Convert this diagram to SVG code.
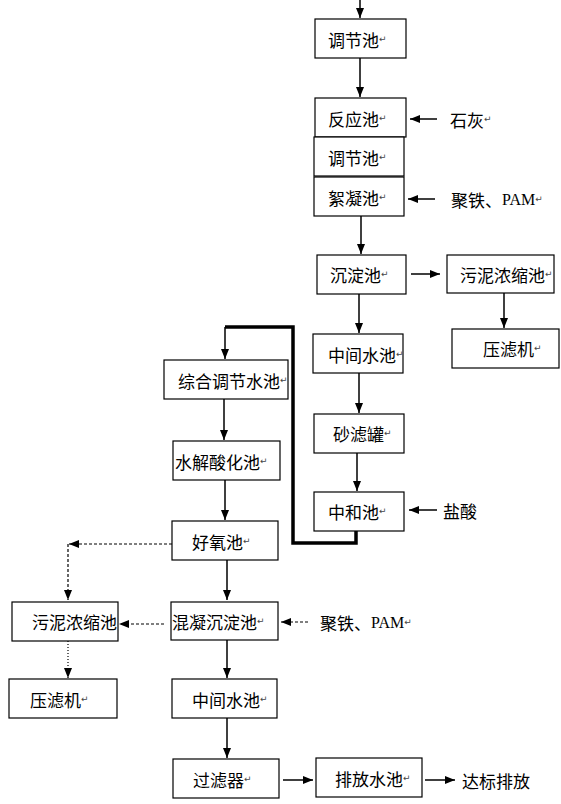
<svg xmlns="http://www.w3.org/2000/svg" width="561" height="804" viewBox="0 0 561 804">
<style>
.box{fill:#fff;stroke:#000;stroke-width:1.2}
.t{font-family:"Noto Sans CJK SC","Liberation Sans",sans-serif;font-size:17px;fill:#000;dominant-baseline:central}
.r{font-family:"DejaVu Sans",sans-serif;font-size:9px;fill:#444}
.lat{font-family:"Liberation Serif",serif;font-size:16px}
.c{fill:none;stroke:#000;stroke-width:1.5}
.d{fill:none;stroke:#000;stroke-width:1.2;stroke-dasharray:3 2}
.o{fill:none;stroke:#000;stroke-width:1.2;stroke-dasharray:1 2}
.thick{fill:none;stroke:#000;stroke-width:3.5}
</style>
<defs>
<marker id="a" markerWidth="10" markerHeight="8" refX="10" refY="4" orient="auto" markerUnits="userSpaceOnUse">
<path d="M0,0 L10,4 L0,8 Z" fill="#000"/>
</marker>
</defs>
<rect width="561" height="804" fill="#fff"/>
<g id="connectors">
<path class="c" d="M360,0 V18" marker-end="url(#a)"/>
<path class="c" d="M360,58 V97" marker-end="url(#a)"/>
<path class="c" d="M437,119 H410" marker-end="url(#a)"/>
<path class="c" d="M435,199 H408" marker-end="url(#a)"/>
<path class="c" d="M361,216 V254" marker-end="url(#a)"/>
<path class="c" d="M411,274 H440" marker-end="url(#a)"/>
<path class="c" d="M504,293 V328" marker-end="url(#a)"/>
<path class="c" d="M359,294 V333" marker-end="url(#a)"/>
<path class="c" d="M359,373 V413" marker-end="url(#a)"/>
<path class="c" d="M357,453 V491" marker-end="url(#a)"/>
<path class="c" d="M437,510 H409" marker-end="url(#a)"/>
<path class="thick" d="M356,531 V543 H293 V327 H225"/>
<path class="c" d="M225,327 V359" marker-end="url(#a)"/>
<path class="c" d="M224,399 V440" marker-end="url(#a)"/>
<path class="c" d="M225,480 V520" marker-end="url(#a)"/>
<path class="d" d="M172,544 H69" marker-end="url(#a)"/>
<path class="d" d="M68,544 V600" marker-end="url(#a)"/>
<path class="c" d="M227,560 V600" marker-end="url(#a)"/>
<path class="d" d="M164,624 H119" marker-end="url(#a)"/>
<path class="d" d="M308,622 H281" marker-end="url(#a)"/>
<path class="o" d="M68,641 V678" marker-end="url(#a)"/>
<path class="c" d="M227,640 V678" marker-end="url(#a)"/>
<path class="c" d="M227,718 V758" marker-end="url(#a)"/>
<path class="c" d="M283,780 H313" marker-end="url(#a)"/>
<path class="c" d="M425,780 H455" marker-end="url(#a)"/>
</g>
<g id="n1"><rect class="box" x="315" y="19" width="91" height="39"/><text class="t" x="328" y="39">调节池<tspan class="r">↵</tspan></text></g>
<g id="n2"><rect class="box" x="315" y="98" width="91" height="39"/><text class="t" x="328" y="118">反应池<tspan class="r">↵</tspan></text></g>
<g id="n3"><rect class="box" x="314" y="137" width="90" height="39"/><text class="t" x="328" y="157">调节池<tspan class="r">↵</tspan></text></g>
<g id="n4"><rect class="box" x="314" y="177" width="90" height="39"/><text class="t" x="328" y="197">絮凝池<tspan class="r">↵</tspan></text></g>
<g id="l1"><text class="t" x="450" y="119">石灰<tspan class="r">↵</tspan></text></g>
<g id="l2"><text class="t" x="451" y="199">聚铁、<tspan class="lat">PAM</tspan><tspan class="r">↵</tspan></text></g>
<g id="n5"><rect class="box" x="317" y="255" width="89" height="39"/><text class="t" x="330" y="274">沉淀池<tspan class="r">↵</tspan></text></g>
<g id="n6"><rect class="box" x="447" y="255" width="107" height="38"/><text class="t" x="460" y="274">污泥浓缩池<tspan class="r">↵</tspan></text></g>
<g id="n7"><rect class="box" x="452" y="329" width="107" height="39"/><text class="t" x="483" y="348">压滤机<tspan class="r">↵</tspan></text></g>
<g id="n8"><rect class="box" x="313" y="334" width="90" height="39"/><text class="t" x="328" y="354">中间水池<tspan class="r">↵</tspan></text></g>
<g id="n9"><rect class="box" x="314" y="414" width="90" height="39"/><text class="t" x="333" y="433">砂滤罐<tspan class="r">↵</tspan></text></g>
<g id="n10"><rect class="box" x="314" y="492" width="90" height="39"/><text class="t" x="328" y="511">中和池<tspan class="r">↵</tspan></text></g>
<g id="l3"><text class="t" x="443" y="510">盐酸</text></g>
<g id="n11"><rect class="box" x="164" y="360" width="124" height="39"/><text class="t" x="178" y="380">综合调节水池<tspan class="r">↵</tspan></text></g>
<g id="n12"><rect class="box" x="173" y="441" width="107" height="39"/><text class="t" x="175" y="461">水解酸化池<tspan class="r">↵</tspan></text></g>
<g id="n13"><rect class="box" x="172" y="521" width="106" height="39"/><text class="t" x="192" y="541">好氧池<tspan class="r">↵</tspan></text></g>
<g id="n14"><rect class="box" x="171" y="602" width="107" height="38"/><text class="t" x="172" y="621">混凝沉淀池<tspan class="r">↵</tspan></text></g>
<g id="n15"><rect class="box" x="12" y="602" width="106" height="39"/><text class="t" x="32" y="621">污泥浓缩池</text></g>
<g id="l4"><text class="t" x="320" y="622">聚铁、<tspan class="lat">PAM</tspan><tspan class="r">↵</tspan></text></g>
<g id="n16"><rect class="box" x="9" y="679" width="108" height="39"/><text class="t" x="30" y="699">压滤机<tspan class="r">↵</tspan></text></g>
<g id="n17"><rect class="box" x="172" y="679" width="105" height="39"/><text class="t" x="192" y="699">中间水池<tspan class="r">↵</tspan></text></g>
<g id="n18"><rect class="box" x="173" y="759" width="106" height="39"/><text class="t" x="193" y="779">过滤器<tspan class="r">↵</tspan></text></g>
<g id="n19"><rect class="box" x="316" y="758" width="106" height="39"/><text class="t" x="335" y="778">排放水池<tspan class="r">↵</tspan></text></g>
<g id="l5"><text class="t" x="462" y="780">达标排放</text></g>
</svg>
